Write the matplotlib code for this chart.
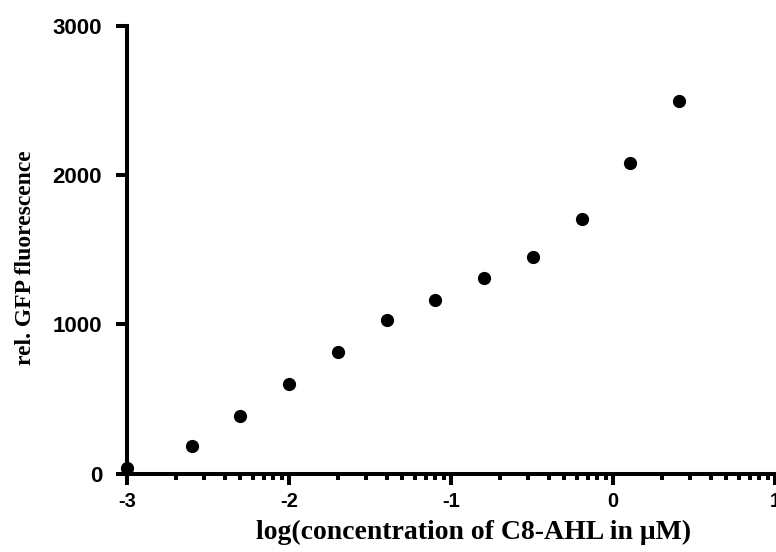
import numpy as np
import matplotlib.pyplot as plt
from matplotlib.ticker import FixedLocator

plt.rcParams["axes.unicode_minus"] = False

# log10 of C8-AHL concentration (uM) and relative GFP fluorescence
log_conc = np.array([-3.0, -2.602, -2.301, -2.0, -1.699, -1.398, -1.097, -0.796, -0.495, -0.194, 0.107, 0.408])
gfp = np.array([37, 184, 385, 600, 814, 1028, 1162, 1310, 1450, 1705, 2080, 2495])

x_ticks = [-3, -2, -1, 0, 1]
y_ticks = [0, 1000, 2000, 3000]

fig = plt.figure(figsize=(7.76, 5.52), dpi=100)
ax = fig.add_axes([0.1637, 0.1422, 0.8350, 0.8112])

ax.plot(log_conc, gfp, "o", color="black", markersize=8.5, clip_on=False, zorder=5)

ax.set_xlim(-3, 1)
ax.set_ylim(0, 3000)
ax.set_xticks(x_ticks)
ax.set_yticks(y_ticks)
minor = [d + np.log10(k) for d in range(-3, 1) for k in range(2, 10)]
ax.xaxis.set_minor_locator(FixedLocator(minor))

for s in ["top", "right"]:
    ax.spines[s].set_visible(False)
for s in ["left", "bottom"]:
    ax.spines[s].set_linewidth(2.9)

ax.tick_params(axis="both", which="major", length=8, width=2.9, direction="out")
ax.tick_params(axis="x", which="minor", length=4.5, width=2.9, direction="out")
ax.tick_params(axis="y", which="major", pad=10)
ax.tick_params(axis="x", which="major", pad=5)

for lab in ax.get_yticklabels():
    lab.set_fontfamily("Liberation Sans")
    lab.set_fontweight("bold")
    lab.set_fontsize(16)
for lab in ax.get_xticklabels():
    lab.set_fontfamily("Liberation Sans")
    lab.set_fontweight("bold")
    lab.set_fontsize(14.5)

ax.set_xlabel("log(concentration of C8-AHL in μM)", fontfamily="Liberation Serif",
              fontweight="bold", fontsize=20, labelpad=7)
ax.xaxis.label.set_x(0.535)
ax.set_ylabel("rel. GFP fluorescence", fontfamily="Liberation Serif",
              fontweight="bold", fontsize=17, labelpad=12)
ax.yaxis.label.set_y(0.483)

fig.savefig("out.png", dpi=100)
